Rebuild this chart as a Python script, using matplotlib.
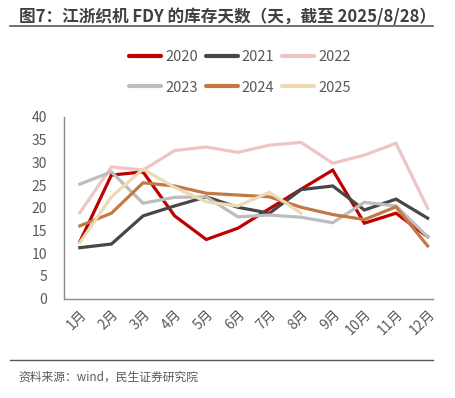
import matplotlib
matplotlib.use("Agg")
import matplotlib.pyplot as plt
from matplotlib.lines import Line2D

plt.rcParams['font.family'] = ['Noto Sans CJK SC', 'DejaVu Sans']

months = ['1月', '2月', '3月', '4月', '5月', '6月', '7月', '8月', '9月', '10月', '11月', '12月']
y2020 = [12.5, 27.2, 27.9, 18.2, 13.0, 15.5, 19.8, 24.1, 28.3, 16.6, 18.8, 13.6]
y2021 = [11.2, 12.0, 18.2, 20.4, 22.4, 20.1, 18.8, 24.0, 24.8, 19.5, 21.9, 17.7]
y2022 = [18.9, 29.0, 28.3, 32.6, 33.4, 32.2, 33.8, 34.4, 29.8, 31.6, 34.2, 19.9]
y2023 = [25.2, 27.9, 21.0, 22.3, 22.4, 18.0, 18.4, 17.9, 16.7, 21.2, 20.4, 13.6]
y2024 = [16.0, 18.8, 25.5, 24.8, 23.2, 22.8, 22.4, 20.1, 18.5, 17.4, 20.2, 11.6]
y2025 = [12.3, 22.4, 28.5, 24.5, 21.3, 20.4, 23.4, 18.8]

series = [
    ('2020', y2020, '#C00000'),
    ('2021', y2021, '#474747'),
    ('2022', y2022, '#EFC4C4'),
    ('2023', y2023, '#BDBDBD'),
    ('2024', y2024, '#C27A45'),
    ('2025', y2025, '#EDDAB4'),
]

fig = plt.figure(figsize=(4.56, 3.98), dpi=100)
ax = fig.add_axes([64 / 456, 99.5 / 398, 369 / 456, 181.5 / 398])

for name, vals, col in series:
    ax.plot(range(len(vals)), vals, color=col, lw=2.3, label=name,
            solid_joinstyle='miter')

ax.set_ylim(0, 40)
ax.set_xlim(-0.5, 11.17)
ax.set_yticks(range(0, 41, 5))
ax.set_xticks(range(12))
ax.set_xticklabels(months, rotation=45, ha='right', rotation_mode='anchor')
ax.tick_params(axis='both', length=0, colors='#595959', labelsize=10)
ax.tick_params(axis='y', pad=12)
ax.tick_params(axis='x', pad=6)
for s in ['top', 'right']:
    ax.spines[s].set_visible(False)
for s in ['left', 'bottom']:
    ax.spines[s].set_color('#8C8C8C')
    ax.spines[s].set_linewidth(1.0)

# legend fills column-wise, so reorder to get rows 2020-2022 / 2023-2025
order = [0, 3, 1, 4, 2, 5]
handles = [Line2D([], [], color=series[i][2], lw=3, solid_capstyle='round') for i in order]
labels = [series[i][0] for i in order]
fig.legend(handles, labels, ncol=3, frameon=False,
           loc='center', bbox_to_anchor=(240 / 456, 1 - 72.5 / 398),
           fontsize=10.5, handlelength=2.2, handletextpad=0.25,
           columnspacing=0.55, labelspacing=1.1, labelcolor='#595959')

# title and frame lines
fig.text(19 / 456, 1 - 17 / 398, '图7：江浙织机 FDY 的库存天数（天，截至 2025/8/28）',
         fontsize=12, fontweight='bold', color='#404040', va='center', ha='left')
fig.add_artist(Line2D([10 / 456, 433 / 456], [1 - 26 / 398, 1 - 26 / 398],
                      color='#595959', lw=1.2))
fig.add_artist(Line2D([10 / 456, 433 / 456], [1 - 360 / 398, 1 - 360 / 398],
                      color='#595959', lw=1.0))
fig.text(18 / 456, 1 - 377 / 398, '资料来源：wind，民生证券研究院',
         fontsize=8.5, color='#595959', va='center', ha='left')

fig.savefig('out.png', dpi=100)
